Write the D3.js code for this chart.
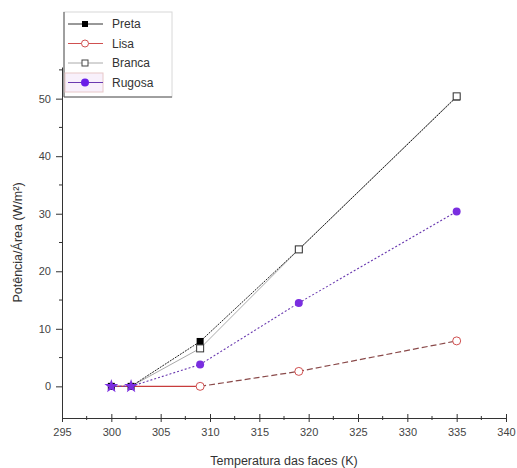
<!DOCTYPE html>
<html>
<head>
<meta charset="utf-8">
<script src="https://cdn.jsdelivr.net/npm/d3@7"></script>
<style>
  body { margin: 0; background: #fff; }
  svg { display: block; font-family: "Liberation Sans", Arial, sans-serif; }
  .axis path, .axis line { stroke: #333; }
  .axis text { fill: #444; font-size: 11px; }
</style>
</head>
<body>
<div id="chart"></div>
<script>
// data
const temps = [300, 302, 309, 319, 335];
const preta = [0, 0, 7.8, 23.8, 50.3];
const lisa = [0, 0, 0, 2.6, 7.9];
const branca = [0, 0, 6.6, 23.8, 50.4];
const rugosa = [0, 0, 3.8, 14.5, 30.4];

const seriesNames = ["Preta", "Lisa", "Branca", "Rugosa"];
const xTicks = [295, 300, 305, 310, 315, 320, 325, 330, 335, 340];
const yTicks = [0, 10, 20, 30, 40, 50];

const width = 517, height = 468;

const x = d3.scaleLinear().domain([295, 340]).range([62, 506]);
const y = d3.scaleLinear().domain([-5.5, 55.5]).range([418, 67]);

const svg = d3.select("#chart").append("svg")
  .attr("width", width)
  .attr("height", height);

// axes
const xAxis = d3.axisBottom(x)
  .tickValues(xTicks)
  .tickSizeInner(4)
  .tickSizeOuter(0)
  .tickPadding(6)
  .tickFormat(d3.format("d"));

const gx = svg.append("g")
  .attr("class", "x axis")
  .attr("transform", "translate(0,418)")
  .call(xAxis);
gx.selectAll(".tick line").attr("y1", -4);

gx.selectAll(".minor")
  .data(d3.range(297.5, 340, 5))
  .enter().append("line")
  .attr("class", "minor")
  .attr("x1", d => x(d)).attr("x2", d => x(d))
  .attr("y1", -2).attr("y2", 2)
  .attr("stroke", "#333");

const yAxis = d3.axisLeft(y)
  .tickValues(yTicks)
  .tickSizeInner(6)
  .tickSizeOuter(0)
  .tickPadding(5)
  .tickFormat(d3.format("d"));

const gy = svg.append("g")
  .attr("class", "y axis")
  .attr("transform", "translate(62,0)")
  .call(yAxis);

gy.selectAll(".minor")
  .data(d3.range(5, 56, 10))
  .enter().append("line")
  .attr("class", "minor")
  .attr("x1", -3).attr("x2", 0)
  .attr("y1", d => y(d)).attr("y2", d => y(d))
  .attr("stroke", "#333");

// axis titles
svg.append("text")
  .attr("x", x(317.5))
  .attr("y", 465)
  .attr("text-anchor", "middle")
  .style("font-size", "12.5px")
  .style("fill", "#333")
  .text("Temperatura das faces (K)");

svg.append("text")
  .attr("transform", "translate(22," + y(25) + ") rotate(-90)")
  .attr("text-anchor", "middle")
  .style("font-size", "12.5px")
  .style("fill", "#333")
  .text("Potência/Área (W/m²)");

const pts = vals => vals.map((v, i) => [temps[i], v]);
const line = d3.line().x(d => x(d[0])).y(d => y(d[1]));

// lines
const gl = svg.append("g").attr("class", "lines").attr("fill", "none");

gl.append("path")
  .attr("d", line(pts(branca)))
  .attr("stroke", "#aaa")
  .attr("stroke-width", 1);

gl.append("path")
  .attr("d", line(pts(preta)))
  .attr("stroke", "#222")
  .attr("stroke-width", 1)
  .attr("stroke-dasharray", "2,1");

gl.append("path")
  .attr("d", line(pts(lisa).slice(0, 3)))
  .attr("stroke", "#c83c3c")
  .attr("stroke-width", 1.3);

gl.append("path")
  .attr("d", line(pts(lisa).slice(2)))
  .attr("stroke", "#8a4a4a")
  .attr("stroke-width", 1.2)
  .attr("stroke-dasharray", "6,3");

gl.append("path")
  .attr("d", line(pts(rugosa)))
  .attr("stroke", "#6a3ab0")
  .attr("stroke-width", 1.1)
  .attr("stroke-dasharray", "2,2");

// markers
const sq = 7;
svg.append("g").selectAll("rect")
  .data(pts(preta))
  .enter().append("rect")
  .attr("x", d => x(d[0]) - sq / 2)
  .attr("y", d => y(d[1]) - sq / 2)
  .attr("width", sq).attr("height", sq)
  .attr("fill", "#000");

svg.append("g").selectAll("rect")
  .data(pts(branca).slice(2))
  .enter().append("rect")
  .attr("x", d => x(d[0]) - sq / 2)
  .attr("y", d => y(d[1]) - sq / 2)
  .attr("width", sq).attr("height", sq)
  .attr("fill", "#fff")
  .attr("stroke", "#333")
  .attr("stroke-width", 1);

svg.append("g").selectAll("circle")
  .data(pts(lisa).slice(2))
  .enter().append("circle")
  .attr("cx", d => x(d[0]))
  .attr("cy", d => y(d[1]))
  .attr("r", 4)
  .attr("fill", "#fff")
  .attr("stroke", "#d05050")
  .attr("stroke-width", 1);

svg.append("g").selectAll("path")
  .data(pts(rugosa))
  .enter().append("path")
  .attr("transform", d => "translate(" + x(d[0]) + "," + y(d[1]) + ")")
  .attr("d", (d, i) => d3.symbol().type(i < 2 ? d3.symbolStar : d3.symbolCircle).size(i < 2 ? 60 : 50)())
  .attr("fill", "#7a2ee0");

// legend
const legend = svg.append("g").attr("class", "legend");
legend.append("rect")
  .attr("x", 64).attr("y", 12)
  .attr("width", 108).attr("height", 85)
  .attr("fill", "#fff")
  .attr("stroke", "#d8d8d8")
  .attr("stroke-width", 1);

// darker left and bottom edges, as in the source
legend.append("path")
  .attr("d", "M64,12V97H172")
  .attr("fill", "none")
  .attr("stroke", "#555");

legend.append("rect")
  .attr("x", 65).attr("y", 73)
  .attr("width", 38).attr("height", 19)
  .attr("fill", "#f8f0fb")
  .attr("stroke", "#e8c8c8")
  .attr("stroke-width", 1);

const legendColors = ["#333", "#d05050", "#aaa", "#6a3ab0"];
const rows = legend.selectAll(".row")
  .data(seriesNames)
  .enter().append("g")
  .attr("class", "row")
  .attr("transform", (d, i) => "translate(0," + (24 + i * 19.5) + ")");

rows.append("line")
  .attr("x1", 68).attr("x2", 103)
  .attr("stroke", (d, i) => legendColors[i])
  .attr("stroke-width", 1);

rows.each(function(d, i) {
  const g = d3.select(this);
  if (i === 0) {
    g.append("rect").attr("x", 82).attr("y", -3).attr("width", 6).attr("height", 6).attr("fill", "#000");
  } else if (i === 1) {
    g.append("circle").attr("cx", 85).attr("r", 3.5).attr("fill", "#fff").attr("stroke", "#d05050");
  } else if (i === 2) {
    g.append("rect").attr("x", 82).attr("y", -3).attr("width", 6).attr("height", 6)
      .attr("fill", "#fff").attr("stroke", "#444");
  } else {
    g.append("circle").attr("cx", 85).attr("r", 4).attr("fill", "#6a1ee8");
  }
});

rows.append("text")
  .attr("x", 112)
  .attr("dy", "0.35em")
  .style("font-size", "12px")
  .style("fill", "#333")
  .text(d => d);
</script>
</body>
</html>
